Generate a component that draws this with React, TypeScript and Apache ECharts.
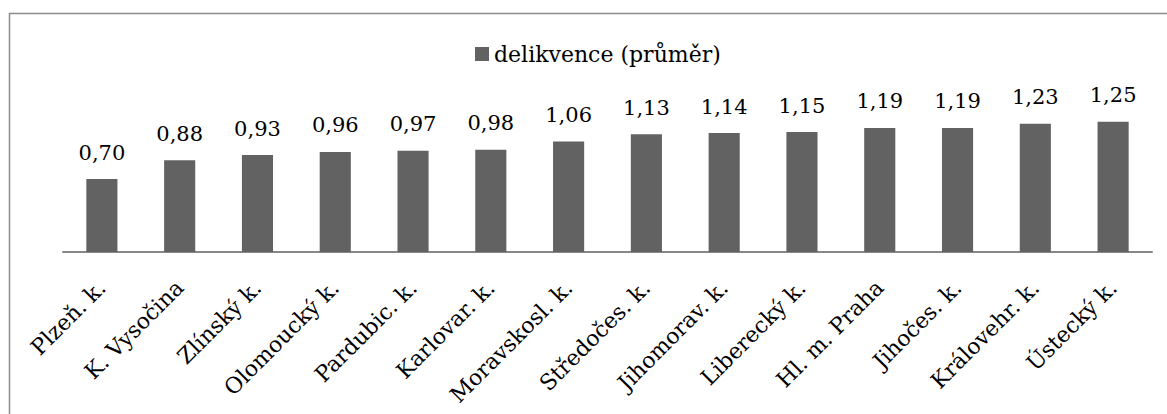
import React, { useEffect, useRef } from "react";
import * as echarts from "echarts";

// Průměrná delikvence podle krajů
const categories = [
  "Plzeň. k.",
  "K. Vysočina",
  "Zlínský k.",
  "Olomoucký k.",
  "Pardubic. k.",
  "Karlovar. k.",
  "Moravskosl. k.",
  "Středočes. k.",
  "Jihomorav. k.",
  "Liberecký k.",
  "Hl. m. Praha",
  "Jihočes. k.",
  "Královehr. k.",
  "Ústecký k.",
];
const delikvence = [0.7, 0.88, 0.93, 0.96, 0.97, 0.98, 1.06, 1.13, 1.14, 1.15, 1.19, 1.19, 1.23, 1.25];
const seriesName = "delikvence (průměr)";

const FONT = "'DejaVu Serif', serif";

export default function App() {
  const ref = useRef<HTMLDivElement>(null);

  useEffect(() => {
    if (!ref.current) return;
    const chart = echarts.init(ref.current, undefined, { renderer: "svg" });
    chart.setOption({
      animation: false,
      backgroundColor: "#ffffff",
      textStyle: { fontFamily: FONT },
      graphic: [
        {
          type: "rect",
          shape: { x: 9.5, y: 13.5, width: 1300, height: 600 },
          style: { fill: "none", stroke: "#8c8c8c", lineWidth: 1.5 },
          silent: true,
          z: -1,
        },
      ],
      legend: {
        left: 470,
        top: 38,
        itemWidth: 14,
        itemHeight: 14,
        itemGap: 10,
        icon: "rect",
        textStyle: { fontFamily: FONT, fontSize: 22, color: "#000" },
        data: [seriesName],
      },
      grid: { left: 63, right: 15, top: 106, bottom: 162, containLabel: false },
      xAxis: {
        type: "category",
        data: categories,
        axisLine: { show: true, lineStyle: { color: "#878787", width: 2 } },
        axisTick: { show: false },
        axisLabel: {
          interval: 0,
          rotate: 45,
          margin: 32,
          fontFamily: FONT,
          fontSize: 22,
          color: "#000",
        },
      },
      yAxis: {
        type: "value",
        min: 0,
        max: 1.4,
        show: false,
        splitLine: { show: false },
      },
      series: [
        {
          name: seriesName,
          type: "bar",
          data: delikvence,
          barCategoryGap: "60%",
          itemStyle: { color: "#626262" },
          label: {
            show: true,
            position: "top",
            distance: 16,
            fontFamily: FONT,
            fontSize: 21,
            color: "#000",
            formatter: (p: any) => Number(p.value).toFixed(2).replace(".", ","),
          },
        },
      ],
    });
    return () => chart.dispose();
  }, []);

  return (
    <div
      ref={ref}
      style={{ position: "fixed", left: 0, top: 0, width: 1167, height: 414 }}
    />
  );
}
